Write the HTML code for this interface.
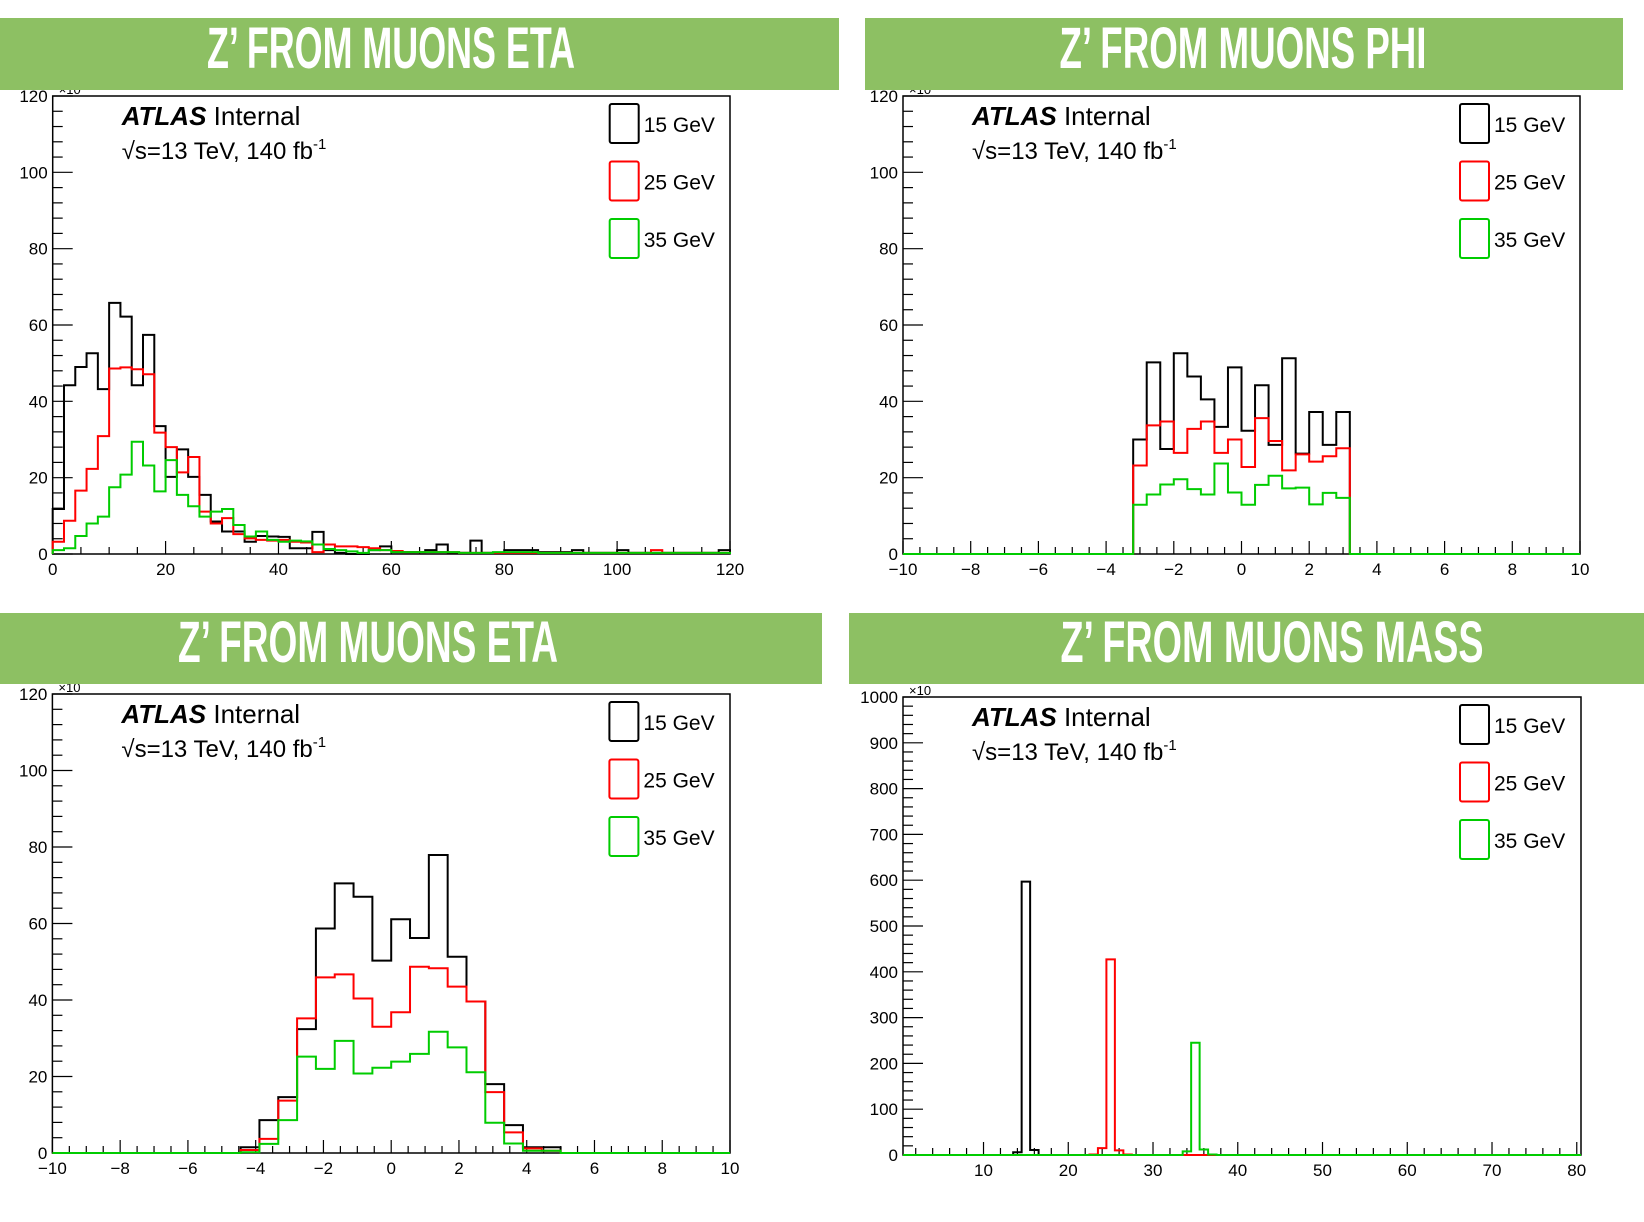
<!DOCTYPE html>
<html><head><meta charset="utf-8">
<style>
html,body{margin:0;padding:0;background:#fff;}
body{width:1644px;height:1222px;overflow:hidden;position:relative;font-family:"Liberation Sans",sans-serif;}
svg{position:absolute;left:0;top:0;}
</style></head>
<body>
<svg id="chart" width="1644" height="1222" viewBox="0 0 1644 1222" xmlns="http://www.w3.org/2000/svg"></svg>
<script>
// ---------- data (values in units of the y axis, x10) ----------
// Panel 1: top-left, x 0..120, 60 bins of width 2
const p1Black = [11.8,44.2,49,52.6,43.2,65.8,62.2,44.2,57.4,33.5,20.2,27.4,20.2,15.5,8.5,5.9,5.9,3.2,4.7,4.6,4.5,1.5,1.5,5.8,1,0.3,0,0,1,2,0.5,0.5,0.5,1,2.5,0.3,0.3,3.5,0.3,0.3,1,1,1,0.5,0.5,0.5,1,0.3,0.3,0.3,1,0.3,0.3,0.3,0.3,0.3,0.3,0.3,0.3,1];
const p1Red = [3.2,8.7,16.6,22.3,30.9,48.6,48.9,48.4,47.1,31.8,28,21.4,25.4,11.1,8,9.4,5.2,4.1,3.7,3.5,3.7,3.2,3,0.5,2.5,2,2,1.8,1.5,1,0.8,0.5,0.5,0.5,0.5,0.5,0.3,0.3,0.3,0.3,0.3,0.3,0.3,0.3,0.3,0.3,0.3,0.3,0.3,0.3,0.3,0.3,0.3,1,0.3,0.3,0.3,0.3,0.3,0.3];
const p1Green = [1,1.5,4.7,8,9.8,17.5,20.8,29.4,23.2,16.4,24.6,15.5,12.5,9.8,11.1,11.8,7.6,4.6,5.9,3.7,3.2,3.5,3.3,2.5,1.3,1,0.7,0.3,1,1,0.5,0.5,0.5,0.5,0.5,0.5,0.3,0.3,0.3,0.5,0.5,0.5,0.5,0.3,0.3,0.3,0.3,0.3,0.3,0.3,0.3,0.3,0.3,0.3,0.3,0.3,0.3,0.3,0.3,0.3];
// Panel 2: top-right phi, 16 bins of width 0.4 from -3.2
const p2Black = [30,50.2,27.5,52.6,46.5,40.5,33.3,48.9,32.3,44.2,28.6,51.3,26.3,37.2,28.6,37.2];
const p2Red = [23.2,33.7,34.7,26.5,32.8,34.7,26.5,30,22.8,35.6,29.6,21.9,26.1,24.2,25.6,27.7];
const p2Green = [12.9,15.6,18.2,19.6,17,15.6,23.7,16.1,12.9,18.1,20.5,17.2,17.4,13,16,14.7];
// Panel 3: bottom-left eta, bins of width 20/36 starting at bin index 10
const p3Black = [1.5,8.6,14.6,32.4,58.7,70.5,67,50.3,61.1,56.2,77.9,51.3,39.6,18,7.3,1.5,1.5];
const p3Red = [0.8,3.7,13.7,35.2,45.9,46.7,40.4,33,36.8,48.7,48.3,43.5,39.6,15.9,5.4,1.2,0.6];
const p3Green = [0.2,2.4,8.6,25.2,22,29.3,20.8,22.3,23.9,25.9,31.7,27.6,21.1,7.9,2.5,0.6,0.6];
// Panel 4: bottom-right mass, bins of width 1 (edges at half-integers)
const p4Black = [6,597,11];      // from 13.5
const p4Red = [1,15,427,10,1];   // from 22.5
const p4Green = [8,245,12,1];    // from 33.5
// tick labels
const p1XTicks = ["0","20","40","60","80","100","120"];
const p1YTicks = ["0","20","40","60","80","100","120"];
const etaXTicks = ["\u221210","\u22128","\u22126","\u22124","\u22122","0","2","4","6","8","10"];
const p4XTicks = ["10","20","30","40","50","60","70","80"];
const p4YTicks = ["0","100","200","300","400","500","600","700","800","900","1000"];
const legendLabels = ["15 GeV","25 GeV","35 GeV"];
const titles = ["Z\u2019 FROM MUONS ETA","Z\u2019 FROM MUONS PHI","Z\u2019  FROM MUONS ETA","Z\u2019  FROM MUONS MASS"];

const NS="http://www.w3.org/2000/svg";
const svg=document.getElementById('chart');
function mk(tag,attrs,parent){const e=document.createElementNS(NS,tag);for(const k in attrs)e.setAttribute(k,attrs[k]);(parent||svg).appendChild(e);return e;}

const COLORS=["#000000","#ff0000","#00cc00"];

function banner(x,w,y,h,cx,tw,base,text,name){
  const g=mk('g',{});
  
  
  mk('rect',{x:x,y:y,width:w,height:h,fill:'#8dc063'},g);
  const t=mk('text',{x:cx-tw/2,y:base,'font-size':58,'font-weight':'bold',fill:'#fff','font-family':'"Liberation Sans Narrow","Liberation Sans",sans-serif',textLength:tw,lengthAdjust:'spacingAndGlyphs'},g);
  t.textContent=text;
  
  
}

function panel(cfg){
  const g=mk('g',{});
  
  
  const {x0,x1,y0,y1,xmin,xmax,ymax}=cfg;
  const sx=v=>x0+(v-xmin)/(xmax-xmin)*(x1-x0);
  const sy=v=>y1-v/ymax*(y1-y0);
  mk('rect',{x:x0,y:y0,width:x1-x0,height:y1-y0,fill:'#fff',stroke:'#000','stroke-width':1.5},g);
  // y ticks
  const ya=mk('g',{},g);
  
  
  for(let v=0;v<=ymax+1e-9;v+=cfg.yMinor){
    const maj=Math.abs(v/cfg.yMajor-Math.round(v/cfg.yMajor))<1e-6;
    mk('line',{x1:x0,x2:x0+(maj?20:10),y1:sy(v),y2:sy(v),stroke:'#000','stroke-width':1.2},ya);
  }
  cfg.yTicks.forEach((lab,i)=>{
    const t=mk('text',{x:x0-5,y:sy(i*cfg.yMajor)+6,'font-size':17,'text-anchor':'end',fill:'#000'},ya);
    t.textContent=lab;
    
    
  });
  const xt=mk('text',{x:x0+6,y:y0-2,'font-size':13,fill:'#000'},ya);
  xt.textContent="\u00d710";
  // x ticks
  const xa=mk('g',{},g);
  
  
  const start=Math.ceil((xmin-1e-9)/cfg.xMinor)*cfg.xMinor;
  for(let v=start;v<=xmax+1e-9;v+=cfg.xMinor){
    const maj=Math.abs(v/cfg.xMajor-Math.round(v/cfg.xMajor))<1e-6;
    mk('line',{x1:sx(v),x2:sx(v),y1:y1,y2:y1-(maj?13:7),stroke:'#000','stroke-width':1.2},xa);
  }
  cfg.xTicks.forEach((lab,i)=>{
    const v=cfg.xFirst+i*cfg.xMajor;
    const t=mk('text',{x:sx(v),y:y1+21,'font-size':17,'text-anchor':'middle',fill:'#000'},xa);
    t.textContent=lab;
    
    
  });
  // series
  cfg.series.forEach((s,k)=>{
    let d=`M${sx(xmin)},${sy(0)} L${sx(s.start)},${sy(0)}`;
    s.values.forEach((v,i)=>{
      const a=s.start+i*s.width,b=a+s.width;
      d+=` L${sx(a)},${sy(v)} L${sx(b)},${sy(v)}`;
    });
    const end=s.start+s.values.length*s.width;
    d+=` L${sx(end)},${sy(0)} L${sx(xmax)},${sy(0)}`;
    const p=mk('path',{d:d,fill:'none',stroke:COLORS[k],'stroke-width':2,'stroke-linejoin':'miter'},g);
    
    
  });
  // ATLAS label
  const t1=mk('text',{x:x0+69,y:y0+29,'font-size':26,fill:'#000'},g);
  
  
  const b=mk('tspan',{'font-weight':'bold','font-style':'italic'},t1);b.textContent="ATLAS";
  const r=mk('tspan',{},t1);r.textContent=" Internal";
  const t2=mk('text',{x:x0+69,y:y0+63,'font-size':24,fill:'#000'},g);
  
  
  const a1=mk('tspan',{},t2);a1.textContent="\u221As=13 TeV, 140 fb";
  const a2=mk('tspan',{dy:-10,'font-size':15},t2);a2.textContent="-1";
  // legend
  legendLabels.forEach((lab,k)=>{
    const lg=mk('g',{},g);
    
    
    const by=y0+8+k*57.5;
    mk('rect',{x:x0+557,y:by,width:29,height:39,rx:2,fill:'none',stroke:COLORS[k],'stroke-width':2},lg);
    const t=mk('text',{x:x0+591,y:by+28,'font-size':21,fill:'#000'},lg);
    t.textContent=lab;
  });
}

const etaW=20/36;
panel({name:'panel-top-left',x0:52.7,x1:730,y0:96,y1:554,xmin:0,xmax:120,ymax:120,yMajor:20,yMinor:4,xMajor:20,xMinor:5,xFirst:0,xTicks:p1XTicks,yTicks:p1YTicks,
  series:[{values:p1Black,start:0,width:2},{values:p1Red,start:0,width:2},{values:p1Green,start:0,width:2}]});
panel({name:'panel-top-right',x0:903,x1:1580,y0:96,y1:554,xmin:-10,xmax:10,ymax:120,yMajor:20,yMinor:4,xMajor:2,xMinor:0.5,xFirst:-10,xTicks:etaXTicks,yTicks:p1YTicks,
  series:[{values:p2Black,start:-3.2,width:0.4},{values:p2Red,start:-3.2,width:0.4},{values:p2Green,start:-3.2,width:0.4}]});
panel({name:'panel-bottom-left',x0:52.4,x1:730,y0:694,y1:1153,xmin:-10,xmax:10,ymax:120,yMajor:20,yMinor:4,xMajor:2,xMinor:0.5,xFirst:-10,xTicks:etaXTicks,yTicks:p1YTicks,
  series:[{values:p3Black,start:-10+10*etaW,width:etaW},{values:p3Red,start:-10+10*etaW,width:etaW},{values:p3Green,start:-10+10*etaW,width:etaW}]});
panel({name:'panel-bottom-right',x0:903,x1:1581,y0:697,y1:1155,xmin:0.5,xmax:80.5,ymax:1000,yMajor:100,yMinor:20,xMajor:10,xMinor:2,xFirst:10,xTicks:p4XTicks,yTicks:p4YTicks,
  series:[{values:p4Black,start:13.5,width:1},{values:p4Red,start:22.5,width:1},{values:p4Green,start:33.5,width:1}]});

banner(0,839,18,72,391,368,68,titles[0],'banner-top-left');
banner(865,758,18,72,1243,367,68,titles[1],'banner-top-right');
banner(0,822,613,71,368,380,662,titles[2],'banner-bottom-left');
banner(849,795,613,71,1272,423,662,titles[3],'banner-bottom-right');
</script>
</body></html>
